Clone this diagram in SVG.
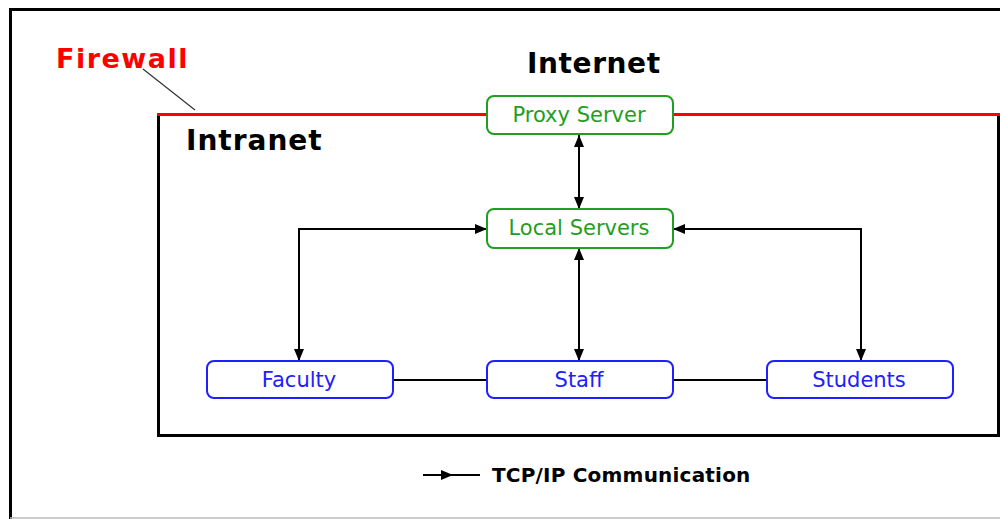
<svg xmlns="http://www.w3.org/2000/svg" width="1000" height="519" viewBox="0 0 1000 519">
<style>
.green rect{fill:#fff;stroke:#1f9e1f;stroke-width:2}
.green text{fill:#1f9e1f}
.blue rect{fill:#fff;stroke:#2020ff;stroke-width:2}
.blue text{fill:#2020ff}
.lbl{font-family:"DejaVu Sans",Verdana,sans-serif;font-size:21px;text-anchor:middle}
.big{font-family:"DejaVu Sans",Verdana,sans-serif;font-weight:bold}
.conn{stroke:#000;stroke-width:2;fill:none}
</style>
<defs>
<marker id="ah" viewBox="0 0 12 10" refX="12" refY="5" markerWidth="12" markerHeight="10" markerUnits="userSpaceOnUse" orient="auto-start-reverse">
<path d="M0,0 L12,5 L0,10 z" fill="#000"/>
</marker>
</defs>
<rect width="1000" height="519" fill="#fff"/>
<g id="frame">
<path d="M10.5,519 L10.5,9.5 L1000,9.5" fill="none" stroke="#000" stroke-width="3"/>
<line x1="10" y1="518" x2="1000" y2="518" stroke="#bbb" stroke-width="1.5"/>
</g>
<g id="intranet">
<path d="M158.5,114 L158.5,435.5 L998.5,435.5 L998.5,114" fill="none" stroke="#000" stroke-width="3"/>
<line x1="157" y1="114.5" x2="1000" y2="114.5" stroke="#ff0000" stroke-width="3"/>
<text x="186" y="150" class="big" font-size="28" fill="#000" letter-spacing="1">Intranet</text>
</g>
<g id="firewall">
<text x="56" y="68" class="big" font-size="27" fill="#ff0000" letter-spacing="1.5">Firewall</text>
<line x1="143" y1="69" x2="195" y2="110" stroke="#333" stroke-width="1.2"/>
</g>
<g id="internet">
<text x="527" y="73" class="big" font-size="28" fill="#000" letter-spacing="0.6">Internet</text>
</g>
<g id="connectors">
<line class="conn" x1="579" y1="135" x2="579" y2="209" marker-start="url(#ah)" marker-end="url(#ah)"/>
<line class="conn" x1="579" y1="248" x2="579" y2="361" marker-start="url(#ah)" marker-end="url(#ah)"/>
<polyline class="conn" points="487,229 299,229 299,361" marker-start="url(#ah)" marker-end="url(#ah)"/>
<polyline class="conn" points="673,229 861,229 861,361" marker-start="url(#ah)" marker-end="url(#ah)"/>
<line class="conn" x1="393" y1="380" x2="487" y2="380"/>
<line class="conn" x1="673" y1="380" x2="767" y2="380"/>
</g>
<g id="proxy" class="green">
<rect x="487" y="96" width="186" height="38" rx="7"/>
<text class="lbl" x="579" y="122">Proxy Server</text>
</g>
<g id="local" class="green">
<rect x="487" y="209" width="186" height="39" rx="7"/>
<text class="lbl" x="579" y="235">Local Servers</text>
</g>
<g id="faculty" class="blue">
<rect x="207" y="361" width="186" height="37" rx="7"/>
<text class="lbl" x="299" y="387">Faculty</text>
</g>
<g id="staff" class="blue">
<rect x="487" y="361" width="186" height="37" rx="7"/>
<text class="lbl" x="579" y="387">Staff</text>
</g>
<g id="students" class="blue">
<rect x="767" y="361" width="186" height="37" rx="7"/>
<text class="lbl" x="859" y="387">Students</text>
</g>
<g id="legend">
<line class="conn" x1="423" y1="475" x2="453" y2="475" marker-end="url(#ah)"/>
<line class="conn" x1="450" y1="475" x2="480" y2="475"/>
<text x="492" y="482" class="big" font-size="20" fill="#000" letter-spacing="0.2">TCP/IP Communication</text>
</g>
</svg>
